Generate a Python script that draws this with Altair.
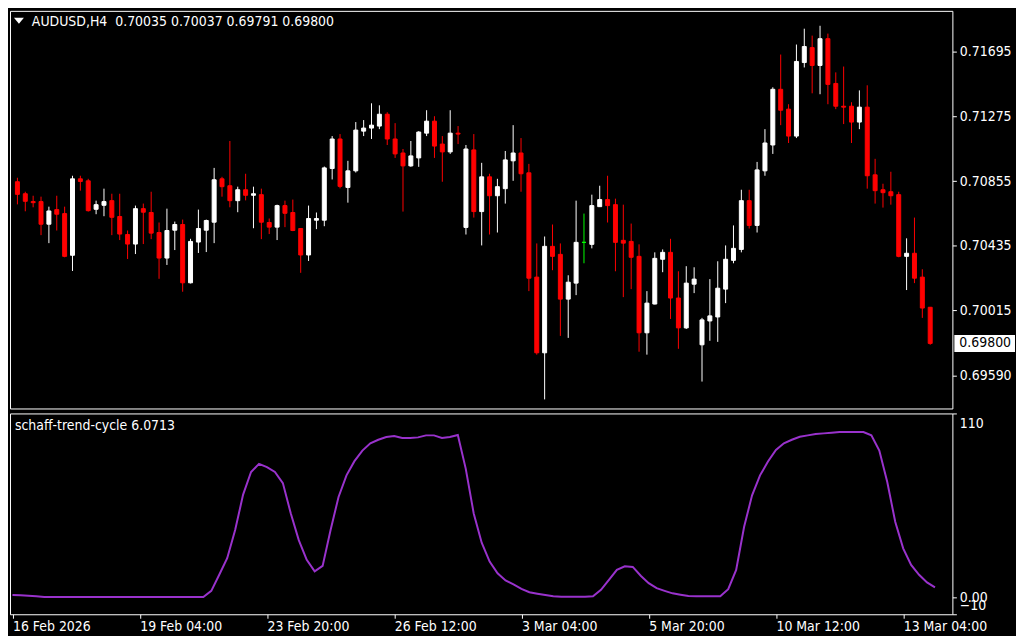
import altair as alt
import numpy as np
import pandas as pd

# ---------------- data ----------------
opens = [0.70851, 0.70773, 0.70722, 0.70722, 0.70575, 0.70670, 0.70644, 0.70373, 0.70870, 0.70857,
         0.70672, 0.70698, 0.70728, 0.70625, 0.70508, 0.70446, 0.70676, 0.70651, 0.70521, 0.70355,
         0.70536, 0.70573, 0.70194, 0.70459, 0.70536, 0.70588, 0.70870, 0.70825, 0.70728, 0.70799,
         0.70763, 0.70767, 0.70586, 0.70556, 0.70696, 0.70651, 0.70547, 0.70375, 0.70601, 0.70601,
         0.70937, 0.71129, 0.70814, 0.70922, 0.71180, 0.71200, 0.71213, 0.71290, 0.71129, 0.71038,
         0.70954, 0.71006, 0.71167, 0.71245, 0.71096, 0.71045, 0.71167, 0.70554, 0.71058, 0.70657,
         0.70883, 0.70760, 0.70806, 0.70987, 0.71038, 0.70909, 0.70231, 0.69739, 0.70431, 0.70379,
         0.70088, 0.70192, 0.70457, 0.70444, 0.70689, 0.70735, 0.70702, 0.70470, 0.70463, 0.70366,
         0.69869, 0.70056, 0.70347, 0.70392, 0.70095, 0.69901, 0.70185, 0.69791, 0.69946, 0.69972,
         0.70153, 0.70340, 0.70411, 0.70728, 0.70567, 0.70922, 0.71090, 0.71452, 0.71323, 0.71148,
         0.71626, 0.71723, 0.71607, 0.71781, 0.71490, 0.71342, 0.71342, 0.71239, 0.71336, 0.70896,
         0.70799, 0.70786, 0.70767, 0.70366, 0.70386, 0.70231, 0.70035]
highs = [0.70877, 0.70786, 0.70760, 0.70754, 0.70689, 0.70760, 0.70689, 0.70890, 0.70890, 0.70870,
         0.70728, 0.70806, 0.70773, 0.70773, 0.70534, 0.70696, 0.70709, 0.70786, 0.70586, 0.70676,
         0.70592, 0.70605, 0.70480, 0.70670, 0.70605, 0.70941, 0.70883, 0.71116, 0.70819, 0.70903,
         0.70819, 0.70806, 0.70612, 0.70702, 0.70728, 0.70735, 0.70550, 0.70696, 0.70651, 0.70950,
         0.71148, 0.71161, 0.70987, 0.71239, 0.71252, 0.71361, 0.71348, 0.71303, 0.71232, 0.71064,
         0.71116, 0.71180, 0.71316, 0.71277, 0.71148, 0.71316, 0.71213, 0.71090, 0.71161, 0.70974,
         0.70903, 0.70870, 0.71051, 0.71219, 0.71135, 0.70967, 0.70450, 0.70495, 0.70573, 0.70450,
         0.70243, 0.70728, 0.70644, 0.70767, 0.70825, 0.70890, 0.70741, 0.70702, 0.70579, 0.70444,
         0.70140, 0.70392, 0.70411, 0.70480, 0.70269, 0.70302, 0.70295, 0.69966, 0.70218, 0.70334,
         0.70437, 0.70567, 0.70799, 0.70799, 0.70980, 0.71193, 0.71465, 0.71678, 0.71355, 0.71743,
         0.71846, 0.71801, 0.71865, 0.71814, 0.71562, 0.71600, 0.71368, 0.71445, 0.71478, 0.71000,
         0.70838, 0.70916, 0.70786, 0.70483, 0.70618, 0.70282, 0.70037]
lows = [0.70704, 0.70659, 0.70685, 0.70504, 0.70452, 0.70534, 0.70360, 0.70271, 0.70793, 0.70657,
        0.70640, 0.70627, 0.70504, 0.70472, 0.70349, 0.70381, 0.70446, 0.70478, 0.70220, 0.70310,
        0.70407, 0.70136, 0.70190, 0.70388, 0.70394, 0.70452, 0.70754, 0.70685, 0.70653, 0.70730,
        0.70549, 0.70478, 0.70511, 0.70472, 0.70556, 0.70530, 0.70259, 0.70336, 0.70543, 0.70562,
        0.70866, 0.70808, 0.70715, 0.70911, 0.71148, 0.71129, 0.71193, 0.71090, 0.71006, 0.70657,
        0.70948, 0.70948, 0.71148, 0.71006, 0.70851, 0.71032, 0.71096, 0.70508, 0.70618, 0.70437,
        0.70508, 0.70521, 0.70709, 0.70857, 0.70786, 0.70140, 0.69727, 0.69436, 0.70276, 0.69849,
        0.69836, 0.70114, 0.70321, 0.70418, 0.70689, 0.70586, 0.70269, 0.70101, 0.70153, 0.69746,
        0.69727, 0.70054, 0.70263, 0.69959, 0.69765, 0.69894, 0.70127, 0.69552, 0.69817, 0.69810,
        0.70062, 0.70321, 0.70392, 0.70547, 0.70521, 0.70890, 0.71032, 0.71219, 0.71103, 0.71135,
        0.71594, 0.71426, 0.71420, 0.71355, 0.71323, 0.71226, 0.71103, 0.71193, 0.70806, 0.70709,
        0.70683, 0.70702, 0.70360, 0.70147, 0.70192, 0.69966, 0.69791]
closes = [0.70769, 0.70724, 0.70715, 0.70575, 0.70661, 0.70640, 0.70366, 0.70870, 0.70853, 0.70663,
          0.70702, 0.70722, 0.70620, 0.70511, 0.70446, 0.70676, 0.70653, 0.70517, 0.70355, 0.70534,
          0.70573, 0.70194, 0.70463, 0.70547, 0.70599, 0.70864, 0.70819, 0.70728, 0.70799, 0.70763,
          0.70773, 0.70588, 0.70556, 0.70696, 0.70646, 0.70534, 0.70375, 0.70612, 0.70612, 0.70941,
          0.71129, 0.70821, 0.70922, 0.71187, 0.71200, 0.71219, 0.71290, 0.71129, 0.71032, 0.70954,
          0.71019, 0.71174, 0.71245, 0.71083, 0.71045, 0.71167, 0.71161, 0.71064, 0.70657, 0.70883,
          0.70760, 0.70819, 0.70993, 0.71038, 0.70903, 0.70224, 0.69739, 0.70431, 0.70366, 0.70088,
          0.70198, 0.70457, 0.70457, 0.70696, 0.70735, 0.70696, 0.70457, 0.70452, 0.70360, 0.69869,
          0.70062, 0.70353, 0.70392, 0.70095, 0.69901, 0.70192, 0.70218, 0.69953, 0.69979, 0.70159,
          0.70347, 0.70418, 0.70728, 0.70567, 0.70928, 0.71103, 0.71452, 0.71316, 0.71148, 0.71633,
          0.71730, 0.71607, 0.71781, 0.71484, 0.71342, 0.71336, 0.71239, 0.71336, 0.70890, 0.70793,
          0.70780, 0.70760, 0.70366, 0.70386, 0.70224, 0.70030, 0.69800]

stc = [1.5, 1.3, 1.0, 0.8, 0.3, 0.3, 0.3, 0.3, 0.3, 0.3,
       0.3, 0.3, 0.3, 0.3, 0.3, 0.3, 0.3, 0.3, 0.3, 0.3,
       0.3, 0.3, 0.3, 0.3, 0.3, 4.0, 13.6, 23.5, 40.3, 61.5,
       75.0, 79.9, 77.9, 75.0, 68.4, 50.2, 34.3, 22.5, 15.6, 18.9,
       40.3, 60.1, 73.0, 81.5, 87.8, 92.2, 94.3, 95.9, 96.5, 95.3,
       95.3, 95.7, 96.9, 96.9, 95.3, 95.9, 97.1, 76.9, 50.2, 32.8,
       21.5, 14.5, 10.2, 7.8, 5.2, 3.2, 2.3, 1.5, 0.7, 0.5,
       0.5, 0.5, 0.5, 0.7, 4.6, 10.6, 16.5, 18.7, 18.3, 13.0,
       8.6, 5.6, 4.0, 2.5, 1.7, 0.9, 0.7, 0.7, 0.7, 0.7,
       5.0, 16.5, 42.3, 61.1, 73.0, 81.3, 88.2, 92.2, 94.3, 96.1,
       96.9, 97.7, 98.1, 98.5, 98.9, 98.9, 98.9, 98.9, 96.9, 87.8,
       69.0, 45.3, 29.4, 19.5, 13.6, 9.0, 6.0713]

tick_idx = [0, 16, 32, 48, 64, 80, 96, 112]
tick_text = ["16 Feb 2026", "19 Feb 04:00", "23 Feb 20:00", "26 Feb 12:00",
             "3 Mar 04:00", "5 Mar 20:00", "10 Mar 12:00", "13 Mar 04:00"]
price_ticks = [0.71695, 0.71275, 0.70855, 0.70435, 0.70015, 0.69590]
price_domain = [0.69377, 0.71962]
stc_ticks = [110, 0, -10]
stc_domain = [-10, 110]
last_price = 0.69800
header_text = "AUDUSD,H4\u00a0\u00a00.70035 0.70037 0.69791 0.69800"
ind_title = "schaff-trend-cycle 6.0713"

# ---------------- build ----------------
FONT = "DejaVu Sans Condensed, DejaVu Sans"
FS = 14
W = 948
H_TOP = 400
H_BOT = 202

n = len(closes)
candles = pd.DataFrame({"i": np.arange(n), "open": opens, "high": highs,
                        "low": lows, "close": closes})
candles["dir"] = np.select([candles.close > candles.open, candles.close < candles.open],
                           ["up", "down"], default="flat")

xs = alt.Scale(domain=[-0.3125, (W - 2.5) / 8], nice=False, zero=False)
ps = alt.Scale(domain=price_domain, nice=False, zero=False)
dir_scale = alt.Scale(domain=["up", "down", "flat"], range=["#ffffff", "#ff0000", "#00ff00"])

price_axis = alt.Axis(orient="right", values=price_ticks, format=".5f", title=None,
                      domain=False, grid=False, tickColor="white", tickSize=4,
                      labelColor="white", labelFont=FONT, labelFontSize=FS, labelPadding=3,
                      labelOverlap=False, labelFlush=False)

wicks = alt.Chart(candles).mark_rule(strokeWidth=1).encode(
    x=alt.X("i:Q", scale=xs, axis=None),
    y=alt.Y("low:Q", scale=ps, axis=price_axis),
    y2="high:Q",
    color=alt.Color("dir:N", scale=dir_scale, legend=None),
)
bodies = alt.Chart(candles).mark_bar(width=4, strokeWidth=1).encode(
    x=alt.X("i:Q", scale=xs, axis=None),
    y=alt.Y("open:Q", scale=ps, axis=price_axis),
    y2="close:Q",
    color=alt.Color("dir:N", scale=dir_scale, legend=None),
    stroke=alt.Stroke("dir:N", scale=dir_scale, legend=None),
)

hdr = pd.DataFrame({"t": [header_text]})
header = alt.Chart(hdr).mark_text(align="left", baseline="middle", color="white",
                                  font=FONT, fontSize=FS).encode(
    x=alt.value(22), y=alt.value(11), text="t:N")
tri = alt.Chart(hdr).mark_point(shape="M-1,-0.6L1,-0.6L0,0.6Z", size=100, filled=True,
                                color="white", opacity=1, strokeWidth=0).encode(
    x=alt.value(9), y=alt.value(10))

lastdf = pd.DataFrame({"p": [last_price], "t": [f"{last_price:.5f}"]})
box = alt.Chart(lastdf).mark_point(shape="M-1,-0.28L1,-0.28L1,0.28L-1,0.28Z", size=3721,
                                   filled=True, color="white", opacity=1, strokeWidth=0).encode(
    x=alt.value(W + 2 + 30.5), y=alt.Y("p:Q", scale=ps, axis=price_axis))
boxtxt = alt.Chart(lastdf).mark_text(align="left", baseline="middle", color="black",
                                     font=FONT, fontSize=FS).encode(
    x=alt.value(W + 7), y=alt.Y("p:Q", scale=ps, axis=price_axis), text="t:N")

top = alt.layer(wicks, bodies, header, tri, box, boxtxt).properties(width=W, height=H_TOP)

stc_df = pd.DataFrame({"i": np.arange(len(stc)), "v": stc})
ys = alt.Scale(domain=stc_domain, nice=False, zero=False)
x_label_expr = "[" + ",".join(repr(t) for t in tick_text) + "][indexof(" + str(tick_idx) + ", datum.value)]"
x_axis = alt.Axis(orient="bottom", values=tick_idx, labelExpr=x_label_expr, title=None,
                  domain=False, grid=False, tickColor="white", tickSize=4,
                  labelColor="white", labelFont=FONT, labelFontSize=FS, labelAlign="left",
                  labelPadding=1, labelOverlap=False, labelFlush=False)
y_axis = alt.Axis(orient="right", values=stc_ticks,
                  labelExpr="datum.value == 0 ? '0.00' : datum.label", title=None,
                  domain=False, grid=False, tickColor="white", tickSize=4,
                  labelColor="white", labelFont=FONT, labelFontSize=FS, labelPadding=3,
                  labelOverlap=False, labelFlush=False,
                  labelOffset={"condition": [{"test": "datum.value == 110", "value": 10},
                                             {"test": "datum.value == -10", "value": -9}],
                               "value": 0})
line = alt.Chart(stc_df).mark_line(color="#9932CC", strokeWidth=2).encode(
    x=alt.X("i:Q", scale=xs, axis=x_axis),
    y=alt.Y("v:Q", scale=ys, axis=y_axis),
)
ind_t = alt.Chart(pd.DataFrame({"t": [ind_title]})).mark_text(
    align="left", baseline="middle", color="white", font=FONT, fontSize=FS).encode(
    x=alt.value(5), y=alt.value(13), text="t:N")

bottom = alt.layer(line, ind_t).properties(width=W, height=H_BOT)

chart = alt.vconcat(top, bottom, spacing=3).properties(
    padding=0, background="black"
).configure_view(stroke="white", strokeWidth=1, fill="black")

chart.save("out.html", embed_options={"renderer": "svg", "actions": False})
